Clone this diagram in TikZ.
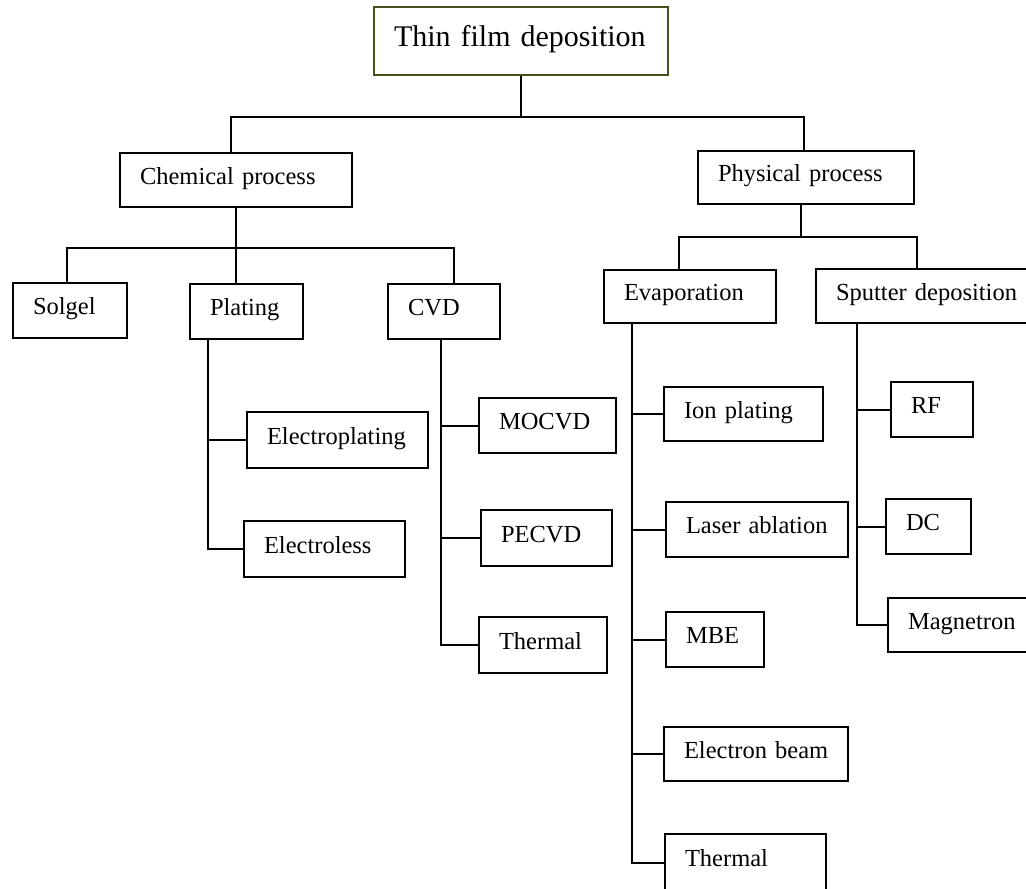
\documentclass[tikz,border=0pt]{standalone}
\usepackage{fontspec}
\setmainfont{Liberation Serif}
\definecolor{olivedark}{RGB}{77,77,30}
\tikzstyle{entry} = [rectangle, anchor=north west, draw=black, line width=1pt, inner xsep=10pt, inner ysep=0pt, align=left, text height=8pt, text depth=3.7pt, font=\fontsize{12.25}{14}\selectfont]
\tikzstyle{root} = [entry, draw=olivedark, text height=9.75pt, text depth=4.5pt, font=\fontsize{15}{18}\selectfont]
\tikzstyle{edge} = [line width=1pt]
\begin{document}
\begin{tikzpicture}[x=0.5pt, y=-0.5pt]

\path [use as bounding box, clip] (0,0) rectangle (1026,888);

\node (title) [root, text width=127pt, minimum height=34pt] at (373,6) {Thin~film~deposition};
\node (chem) [entry, text width=96pt, minimum height=27pt] at (119,152) {Chemical~process};
\node (phys) [entry, text width=88pt, minimum height=26.5pt] at (697,150) {Physical~process};

\node (solgel) [entry, text width=37pt, minimum height=27.5pt] at (12,282) {Solgel};
\node (plating) [entry, text width=36.5pt, minimum height=27.5pt] at (189,283) {Plating};
\node (cvd) [entry, text width=36pt, minimum height=27.5pt] at (387,283) {CVD};
\node (evap) [entry, text width=66pt, minimum height=26.5pt] at (603,269) {Evaporation};
\node (sputter) [entry, text width=92.5pt, minimum height=27pt] at (815,268) {Sputter~deposition};

\node (electroplating) [entry, text width=70.5pt, minimum height=28pt] at (246,411) {Electroplating};
\node (electroless) [entry, text width=60.5pt, minimum height=28pt] at (243,520) {Electroless};

\node (mocvd) [entry, text width=48.5pt, minimum height=27.5pt] at (478,397) {MOCVD};
\node (pecvd) [entry, text width=45.5pt, minimum height=28pt] at (480,509) {PECVD};
\node (thermc) [entry, text width=44pt, minimum height=28pt] at (478,616) {Thermal};

\node (ion) [entry, text width=59.5pt, minimum height=27pt] at (663,386) {Ion~plating};
\node (laser) [entry, text width=71pt, minimum height=27.5pt] at (665,501) {Laser~ablation};
\node (mbe) [entry, text width=29pt, minimum height=27.5pt] at (665,611) {MBE};
\node (ebeam) [entry, text width=72pt, minimum height=27pt] at (663,726) {Electron~beam};
\node (thermp) [entry, text width=60.5pt, minimum height=28.5pt] at (664,833) {Thermal};

\node (rf) [entry, text width=21pt, minimum height=27.5pt] at (890,381) {RF};
\node (dc) [entry, text width=22.5pt, minimum height=27.5pt] at (885,498) {DC};
\node (magnetron) [entry, text width=56.5pt, minimum height=27pt] at (887,597) {Magnetron};

% first level
\draw [edge] (title.south) -- ++(0,41) coordinate (topjoin);
\draw [edge] ([xshift=-2.5pt]chem.north) |- (topjoin) -| ([xshift=-1pt]phys.north);

% chemical side
\draw [edge] (chem.south) -- ++(0,40) coordinate (chemjoin);
\draw [edge] ([xshift=-1.5pt]solgel.north) |- (chemjoin) -| ([xshift=5pt]cvd.north);
\draw [edge] (chemjoin) -- (chemjoin |- plating.north);

\draw [edge] ([xshift=9.5pt]plating.south west) coordinate (platetrunk) |- (electroless.west);
\draw [edge] (electroplating.west) -- (electroplating.west -| platetrunk);

\draw [edge] ([xshift=27pt]cvd.south west) coordinate (cvdtrunk) |- (thermc.west);
\draw [edge] (mocvd.west) -- (mocvd.west -| cvdtrunk);
\draw [edge] (pecvd.west) -- (pecvd.west -| cvdtrunk);

% physical side
\draw [edge] ([xshift=-2.5pt]phys.south) -- ++(0,32) coordinate (physjoin);
\draw [edge] ([xshift=38pt]evap.north west) |- (physjoin) -| ([xshift=51pt]sputter.north west);

\draw [edge] ([xshift=14.5pt]evap.south west) coordinate (evaptrunk) |- (thermp.west);
\draw [edge] (ion.west) -- (ion.west -| evaptrunk);
\draw [edge] (laser.west) -- (laser.west -| evaptrunk);
\draw [edge] (mbe.west) -- (mbe.west -| evaptrunk);
\draw [edge] (ebeam.west) -- (ebeam.west -| evaptrunk);

\draw [edge] ([xshift=21pt]sputter.south west) coordinate (sputtrunk) |- (magnetron.west);
\draw [edge] (rf.west) -- (rf.west -| sputtrunk);
\draw [edge] (dc.west) -- (dc.west -| sputtrunk);

\end{tikzpicture}
\end{document}
